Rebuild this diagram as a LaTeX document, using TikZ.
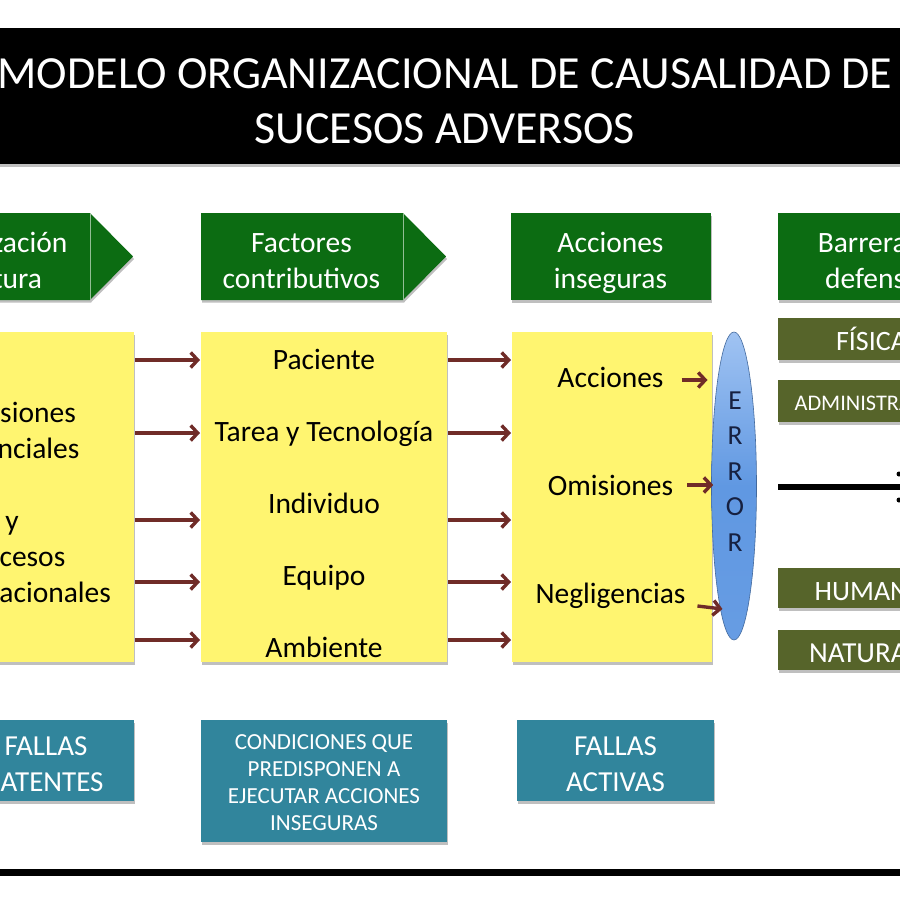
\documentclass[tikz,border=0pt]{standalone}
\usepackage{fontspec}
\setmainfont{Carlito}
\usetikzlibrary{arrows.meta}
\usetikzlibrary{shadows}
\usetikzlibrary{shapes.geometric}

\definecolor{verdeosc}{RGB}{12,108,18}
\definecolor{olivaosc}{RGB}{86,100,42}
\definecolor{amarillo}{RGB}{255,245,112}
\definecolor{azulpet}{RGB}{49,133,156}
\definecolor{granate}{RGB}{112,44,40}
\definecolor{azulclaro}{RGB}{160,195,242}
\definecolor{azulmed}{RGB}{96,152,226}
\definecolor{marino}{RGB}{22,32,64}

\tikzset{
  sombra/.style={drop shadow={shadow xshift=1pt, shadow yshift=-2.5pt, opacity=.25, fill=black}},
  amarilla/.style={rectangle, fill=amarillo, sombra},
  verde/.style={fill=verdeosc, sombra},
  oliva/.style={rectangle, fill=olivaosc, sombra},
  petroleo/.style={rectangle, fill=azulpet, sombra},
  flecha/.style={draw=granate, line width=3.4pt, -{Straight Barb[length=7pt,width=15pt]}},
  bloque/.style={font=\fontsize{29.5}{36}\selectfont, align=center},
  texto/.style={font=\fontsize{29.5}{36}\selectfont, anchor=base},
}

\begin{document}
\begin{tikzpicture}[x=1pt, y=-1pt, every node/.style={inner sep=0pt, outer sep=0pt}]
\useasboundingbox (0,0) rectangle (900,900);
\clip (0,0) rectangle (900,900);
\fill[white] (0,0) rectangle (900,900);

% titulo
\fill[black, sombra] (-5,28) rectangle (905,164);
\node[font=\fontsize{46}{55}\selectfont, align=center, text=white] (tit) at (445,104.5)
  {MODELO ORGANIZACIONAL DE CAUSALIDAD DE\strut\\SUCESOS ADVERSOS\strut};

% encabezados verdes
\fill[verde] (-111,213) -- (90,213) -- (133,256.5) -- (90,300) -- (-111,300) -- cycle;
\draw[verdeosc!45!white, line width=0.8pt] (90,213) -- (90,300);
\fill[verde] (201,213) -- (403,213) -- (446,256.5) -- (403,300) -- (201,300) -- cycle;
\draw[verdeosc!45!white, line width=0.8pt] (403,213) -- (403,300);
\fill[verde] (511,213) rectangle (711,300);
\fill[verde] (778,213) rectangle (979,300);

\node[bloque, text=white] (enc1) at (-10,262.8) {Organización\strut\\y cultura\strut};
\node[bloque, text=white] (enc2) at (301.5,262.8) {Factores\strut\\contributivos\strut};
\node[bloque, text=white] (enc3) at (610.5,262.8) {Acciones\strut\\inseguras\strut};
\node[bloque, text=white] (enc4) at (878,262.8) {Barreras y\strut\\defensas\strut};

% cajas amarillas
\node[amarilla, minimum width=246pt, minimum height=330pt] (cajaA) at (11,497) {};
\node[amarilla, minimum width=246pt, minimum height=330pt] (cajaB) at (324,497) {};
\node[amarilla, minimum width=200pt, minimum height=330pt] (cajaC) at (612,497) {};

\node[bloque] (decis) at (12,504.8)
  {Decisiones\strut\\gerenciales\strut\\\strut\\y\strut\\procesos\strut\\organizacionales\strut};

\node[texto] (pac) at (324,369) {Paciente};
\node[texto] (tar) at (324,441) {Tarea y Tecnología};
\node[texto] (ind) at (324,513) {Individuo};
\node[texto] (equ) at (324,585) {Equipo};
\node[texto] (amb) at (324,657) {Ambiente};

\node[texto] (acc) at (610.5,387) {Acciones};
\node[texto] (omi) at (610.5,495) {Omisiones};
\node[texto] (neg) at (610.5,603) {Negligencias};

\foreach \yy in {360,433,520,582,640}{
  \draw[flecha] ([xshift=1pt]cajaA.east |- 0,\yy) -- ([xshift=-1pt]cajaB.west |- 0,\yy);
  \draw[flecha] ([xshift=1pt]cajaB.east |- 0,\yy) -- ([xshift=-1pt]cajaC.west |- 0,\yy);
}

% error
\node[ellipse, minimum width=45pt, minimum height=308pt, draw=azulmed!70!black, line width=0.6pt,
  top color=azulclaro, bottom color=azulmed!90!azulclaro, middle color=azulmed] (error) at (734,486) {};
\foreach \l [count=\i from 0] in {E,R,R,O,R}
  \node[font=\fontsize{27.5}{32}\selectfont, text=marino, anchor=base] (err\i) at (735,409+35.5*\i) {\l};

\draw[flecha] ([shift={(18pt,7pt)}]acc.base east) -- ([shift={(44pt,7pt)}]acc.base east);
\draw[flecha] ([shift={(14pt,10pt)}]omi.base east) -- ([shift={(40pt,10pt)}]omi.base east);
\draw[flecha] ([shift={(12pt,-3pt)}]neg.base east) -- ([shift={(37pt,-6pt)}]neg.base east);

% barreras
\node[oliva, minimum width=201pt, minimum height=42pt] (fis) at (878.5,339) {};
\node[oliva, minimum width=201pt, minimum height=42pt] (adm) at (878.5,401) {};
\node[oliva, minimum width=201pt, minimum height=40pt] (hum) at (878.5,588) {};
\node[oliva, minimum width=201pt, minimum height=40pt] (nat) at (878.5,650) {};
\node[font=\fontsize{28}{34}\selectfont, text=white, anchor=base] (fist) at (878,350) {FÍSICAS};
\node[font=\fontsize{22.3}{27}\selectfont, text=white, anchor=base] (admt) at (878,410) {ADMINISTRATIVAS};
\node[font=\fontsize{28}{34}\selectfont, text=white, anchor=base] (humt) at (876,600) {HUMANAS};
\node[font=\fontsize{29}{35}\selectfont, text=white, anchor=base] (natt) at (878,662) {NATURALES};

\draw[line width=6pt] (778,487) -- (905,487);
\fill (899,474) circle (2.5);
\fill (899,500) circle (2.5);

% fallas
\node[petroleo, minimum width=176pt, minimum height=81pt] (lat) at (46,760.5) {};
\node[petroleo, minimum width=246pt, minimum height=122pt] (cond) at (324,781) {};
\node[petroleo, minimum width=197pt, minimum height=81pt] (act) at (615.5,760.5) {};
\node[bloque, font=\fontsize{29}{36}\selectfont, text=white] (latt) at (46,766.3) {FALLAS\strut\\LATENTES\strut};
\node[bloque, font=\fontsize{23}{27.3}\selectfont, text=white] (condt) at (324,784.5)
  {CONDICIONES QUE\strut\\PREDISPONEN A\strut\\EJECUTAR ACCIONES\strut\\INSEGURAS\strut};
\node[bloque, font=\fontsize{29}{36}\selectfont, text=white] (actt) at (615.5,766.3) {FALLAS\strut\\ACTIVAS\strut};

\fill[black] (-5,869) rectangle (905,876);
\end{tikzpicture}
\end{document}
